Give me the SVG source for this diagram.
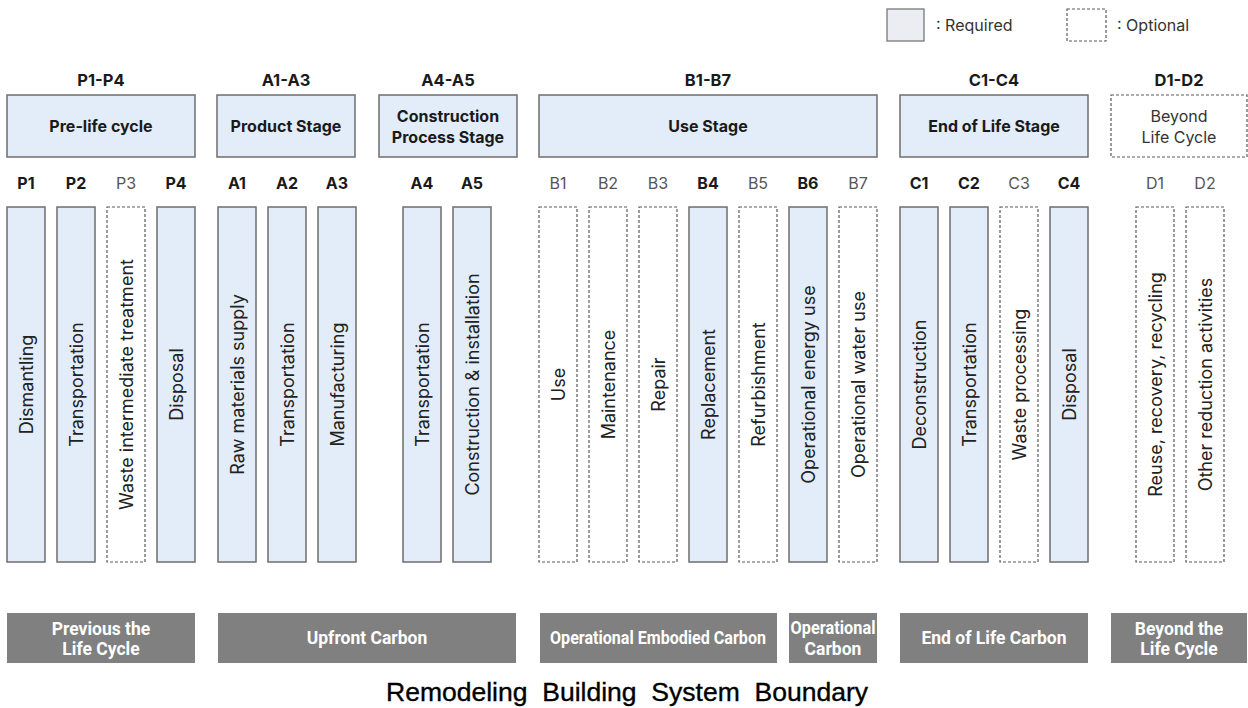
<svg xmlns="http://www.w3.org/2000/svg" width="1248" height="708" viewBox="0 0 1248 708">
<style>
text{font-family:Inter,"Noto Sans",sans-serif;fill:#1a1a1a}
.req{fill:#e3edf9;stroke:#6e6e6e;stroke-width:1.5}
.opt{fill:#ffffff;stroke:#5a5a5a;stroke-width:1.2;stroke-dasharray:3 2}
.grp{font-size:16.5px;font-weight:700;text-anchor:middle}
.hd{font-size:16px;font-weight:700;text-anchor:middle}
.hdo{font-size:16px;font-weight:400;text-anchor:middle;fill:#333}
.lb{font-size:16px;font-weight:700;text-anchor:middle}
.lbo{font-size:16px;font-weight:400;text-anchor:middle;fill:#555}
.ct{font-size:18px;text-anchor:middle;dominant-baseline:central;fill:#222}
.bar{fill:#808080}
.bt{font-family:Roboto,"Liberation Sans",sans-serif;font-size:17.5px;font-weight:700;fill:#ffffff;text-anchor:middle}
.leg{font-size:16px;fill:#333}
</style>
<g id="legend">
<rect x="887" y="9" width="37" height="32" fill="#ecedf2" stroke="#777" stroke-width="1.3"/>
<text class="leg" x="936" y="31">: Required</text>
<rect x="1067" y="9" width="39" height="32" class="opt"/>
<text class="leg" x="1117" y="31">: Optional</text>
</g>
<g id="stage-P">
<text class="grp" x="101" y="86">P1-P4</text>
<rect class="req" x="7" y="95" width="188" height="62"/>
<text class="hd" x="101" y="132">Pre-life cycle</text>
</g>
<g id="stage-A13">
<text class="grp" x="286" y="86">A1-A3</text>
<rect class="req" x="217" y="95" width="138" height="62"/>
<text class="hd" x="286" y="132">Product Stage</text>
</g>
<g id="stage-A45">
<text class="grp" x="448" y="86">A4-A5</text>
<rect class="req" x="379" y="95" width="138" height="62"/>
<text class="hd" x="448" y="122">Construction</text>
<text class="hd" x="448" y="143">Process Stage</text>
</g>
<g id="stage-B">
<text class="grp" x="708" y="86">B1-B7</text>
<rect class="req" x="539" y="95" width="338" height="62"/>
<text class="hd" x="708" y="132">Use Stage</text>
</g>
<g id="stage-C">
<text class="grp" x="994" y="86">C1-C4</text>
<rect class="req" x="900" y="95" width="188" height="62"/>
<text class="hd" x="994" y="132">End of Life Stage</text>
</g>
<g id="stage-D">
<text class="grp" x="1179" y="86">D1-D2</text>
<rect class="opt" x="1111" y="95" width="136" height="62"/>
<text class="hdo" x="1179" y="122">Beyond</text>
<text class="hdo" x="1179" y="143">Life Cycle</text>
</g>
<g id="P1"><text class="lb" x="26" y="189">P1</text><rect class="req" x="7" y="207" width="38" height="355"/><text class="ct" transform="translate(26,384.5) rotate(-90)">Dismantling</text></g>
<g id="P2"><text class="lb" x="76" y="189">P2</text><rect class="req" x="57" y="207" width="38" height="355"/><text class="ct" transform="translate(76,384.5) rotate(-90)">Transportation</text></g>
<g id="P3"><text class="lbo" x="126" y="189">P3</text><rect class="opt" x="107" y="207" width="38" height="355"/><text class="ct" transform="translate(126,384.5) rotate(-90)">Waste intermediate treatment</text></g>
<g id="P4"><text class="lb" x="176" y="189">P4</text><rect class="req" x="157" y="207" width="38" height="355"/><text class="ct" transform="translate(176,384.5) rotate(-90)">Disposal</text></g>
<g id="A1"><text class="lb" x="237" y="189">A1</text><rect class="req" x="218" y="207" width="38" height="355"/><text class="ct" transform="translate(237,384.5) rotate(-90)">Raw materials supply</text></g>
<g id="A2"><text class="lb" x="287" y="189">A2</text><rect class="req" x="268" y="207" width="38" height="355"/><text class="ct" transform="translate(287,384.5) rotate(-90)">Transportation</text></g>
<g id="A3"><text class="lb" x="337" y="189">A3</text><rect class="req" x="318" y="207" width="38" height="355"/><text class="ct" transform="translate(337,384.5) rotate(-90)">Manufacturing</text></g>
<g id="A4"><text class="lb" x="422" y="189">A4</text><rect class="req" x="403" y="207" width="38" height="355"/><text class="ct" transform="translate(422,384.5) rotate(-90)">Transportation</text></g>
<g id="A5"><text class="lb" x="472" y="189">A5</text><rect class="req" x="453" y="207" width="38" height="355"/><text class="ct" transform="translate(472,384.5) rotate(-90)">Construction &amp; installation</text></g>
<g id="B1"><text class="lbo" x="558" y="189">B1</text><rect class="opt" x="539" y="207" width="38" height="355"/><text class="ct" transform="translate(558,384.5) rotate(-90)">Use</text></g>
<g id="B2"><text class="lbo" x="608" y="189">B2</text><rect class="opt" x="589" y="207" width="38" height="355"/><text class="ct" transform="translate(608,384.5) rotate(-90)">Maintenance</text></g>
<g id="B3"><text class="lbo" x="658" y="189">B3</text><rect class="opt" x="639" y="207" width="38" height="355"/><text class="ct" transform="translate(658,384.5) rotate(-90)">Repair</text></g>
<g id="B4"><text class="lb" x="708" y="189">B4</text><rect class="req" x="689" y="207" width="38" height="355"/><text class="ct" transform="translate(708,384.5) rotate(-90)">Replacement</text></g>
<g id="B5"><text class="lbo" x="758" y="189">B5</text><rect class="opt" x="739" y="207" width="38" height="355"/><text class="ct" transform="translate(758,384.5) rotate(-90)">Refurbishment</text></g>
<g id="B6"><text class="lb" x="808" y="189">B6</text><rect class="req" x="789" y="207" width="38" height="355"/><text class="ct" transform="translate(808,384.5) rotate(-90)">Operational energy use</text></g>
<g id="B7"><text class="lbo" x="858" y="189">B7</text><rect class="opt" x="839" y="207" width="38" height="355"/><text class="ct" transform="translate(858,384.5) rotate(-90)">Operational water use</text></g>
<g id="C1"><text class="lb" x="919" y="189">C1</text><rect class="req" x="900" y="207" width="38" height="355"/><text class="ct" transform="translate(919,384.5) rotate(-90)">Deconstruction</text></g>
<g id="C2"><text class="lb" x="969" y="189">C2</text><rect class="req" x="950" y="207" width="38" height="355"/><text class="ct" transform="translate(969,384.5) rotate(-90)">Transportation</text></g>
<g id="C3"><text class="lbo" x="1019" y="189">C3</text><rect class="opt" x="1000" y="207" width="38" height="355"/><text class="ct" transform="translate(1019,384.5) rotate(-90)">Waste processing</text></g>
<g id="C4"><text class="lb" x="1069" y="189">C4</text><rect class="req" x="1050" y="207" width="38" height="355"/><text class="ct" transform="translate(1069,384.5) rotate(-90)">Disposal</text></g>
<g id="D1"><text class="lbo" x="1155" y="189">D1</text><rect class="opt" x="1136" y="207" width="38" height="355"/><text class="ct" transform="translate(1155,384.5) rotate(-90)">Reuse, recovery, recycling</text></g>
<g id="D2"><text class="lbo" x="1205" y="189">D2</text><rect class="opt" x="1186" y="207" width="38" height="355"/><text class="ct" transform="translate(1205,384.5) rotate(-90)">Other reduction activities</text></g>
<g id="carbon-previous"><rect class="bar" x="7" y="613" width="188" height="50"/><text class="bt" x="101" y="635">Previous the</text><text class="bt" x="101" y="655">Life Cycle</text></g>
<g id="carbon-upfront"><rect class="bar" x="218" y="613" width="298" height="50"/><text class="bt" x="367" y="644">Upfront Carbon</text></g>
<g id="carbon-op-embodied"><rect class="bar" x="540" y="613" width="237" height="50"/><text class="bt" x="658" y="644" textLength="216" lengthAdjust="spacingAndGlyphs">Operational Embodied Carbon</text></g>
<g id="carbon-operational"><rect class="bar" x="789" y="613" width="88" height="50"/><text class="bt" x="833" y="634" textLength="85" lengthAdjust="spacingAndGlyphs">Operational</text><text class="bt" x="833" y="655">Carbon</text></g>
<g id="carbon-eol"><rect class="bar" x="900" y="613" width="188" height="50"/><text class="bt" x="994" y="644">End of Life Carbon</text></g>
<g id="carbon-beyond"><rect class="bar" x="1111" y="613" width="136" height="50"/><text class="bt" x="1179" y="635">Beyond the</text><text class="bt" x="1179" y="655">Life Cycle</text></g>
<g id="connectors"></g>
<text id="title" x="627" y="701" text-anchor="middle" style="font-family:'Liberation Sans',sans-serif;font-size:25px;fill:#000;stroke:#000;stroke-width:0.35" textLength="482" lengthAdjust="spacingAndGlyphs" xml:space="preserve">Remodeling  Building  System  Boundary</text>
</svg>
